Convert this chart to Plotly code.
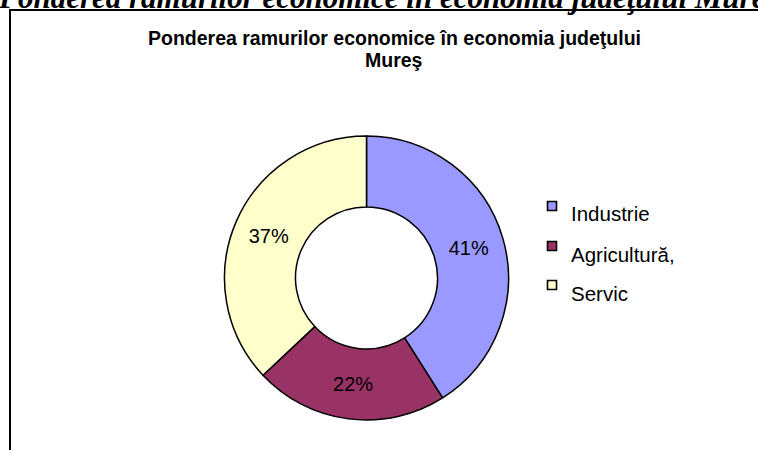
import plotly.graph_objects as go

# Data
labels = ["Industrie", "Agricultură,", "Servic"]
values = [41, 22, 37]
colors = ["#9999FF", "#993366", "#FFFFCC"]
title_line1 = "Ponderea ramurilor economice în economia judeţului"
title_line2 = "Mureş"
page_heading = "Ponderea ramurilor economice în economia judeţului Mureş"

W, H = 758, 450

def px(x):
    return x / W

def py(y):
    return 1 - y / H

fig = go.Figure()

fig.add_trace(go.Pie(
    labels=labels,
    values=values,
    hole=0.5,
    sort=False,
    direction="clockwise",
    rotation=0,
    marker=dict(colors=colors, line=dict(color="black", width=1.5)),
    textinfo="percent",
    texttemplate="%{percent:.0%}",
    textposition="inside",
    insidetextorientation="horizontal",
    textfont=dict(family="Liberation Sans, Arial", size=20, color="black"),
    domain=dict(x=[px(224.5), px(508.5)], y=[py(420), py(136)]),
    showlegend=False,
    hoverinfo="label+percent",
))

shapes = []
annotations = []

# frame (extends beyond the visible window on the right and bottom)
shapes.append(dict(type="rect", xref="paper", yref="paper",
                   x0=px(10), x1=px(800), y0=py(10), y1=py(500),
                   line=dict(color="black", width=2), fillcolor="rgba(0,0,0,0)"))

# custom legend built from labels/colors
row_y = [214, 254, 293]
for lab, col, ty in zip(labels, colors, row_y):
    sq = ty - 8
    shapes.append(dict(type="rect", xref="paper", yref="paper",
                       x0=px(547.5), x1=px(556.5), y0=py(sq + 4.5), y1=py(sq - 4.5),
                       line=dict(color="black", width=1.6), fillcolor=col))
    annotations.append(dict(text=lab, xref="paper", yref="paper",
                            x=px(569), y=py(ty), xanchor="left", yanchor="middle",
                            showarrow=False,
                            font=dict(family="Liberation Sans, Arial", size=20.5, color="black")))

# chart title (two lines)
annotations.append(dict(text="<b>" + title_line1 + "</b>", xref="paper", yref="paper",
                        x=px(394), y=py(38), xanchor="center", yanchor="middle",
                        showarrow=False,
                        font=dict(family="Liberation Sans, Arial", size=19.5, color="black")))
annotations.append(dict(text="<b>" + title_line2 + "</b>", xref="paper", yref="paper",
                        x=px(394), y=py(60), xanchor="center", yanchor="middle",
                        showarrow=False,
                        font=dict(family="Liberation Sans, Arial", size=19.5, color="black")))

# cut-off page heading above the chart frame
annotations.append(dict(text="<b><i>" + page_heading + "</i></b>", xref="paper", yref="paper",
                        x=px(-4), y=py(-3), xanchor="left", yanchor="middle",
                        showarrow=False,
                        font=dict(family="Liberation Serif, Times New Roman", size=31, color="black")))

fig.update_layout(
    width=W, height=H,
    margin=dict(l=0, r=0, t=0, b=0),
    paper_bgcolor="white",
    plot_bgcolor="white",
    shapes=shapes,
    annotations=annotations,
)

fig.write_html("out.html", config={"displayModeBar": False},
               post_script="document.body.style.margin='0';document.body.style.overflow='hidden';")
